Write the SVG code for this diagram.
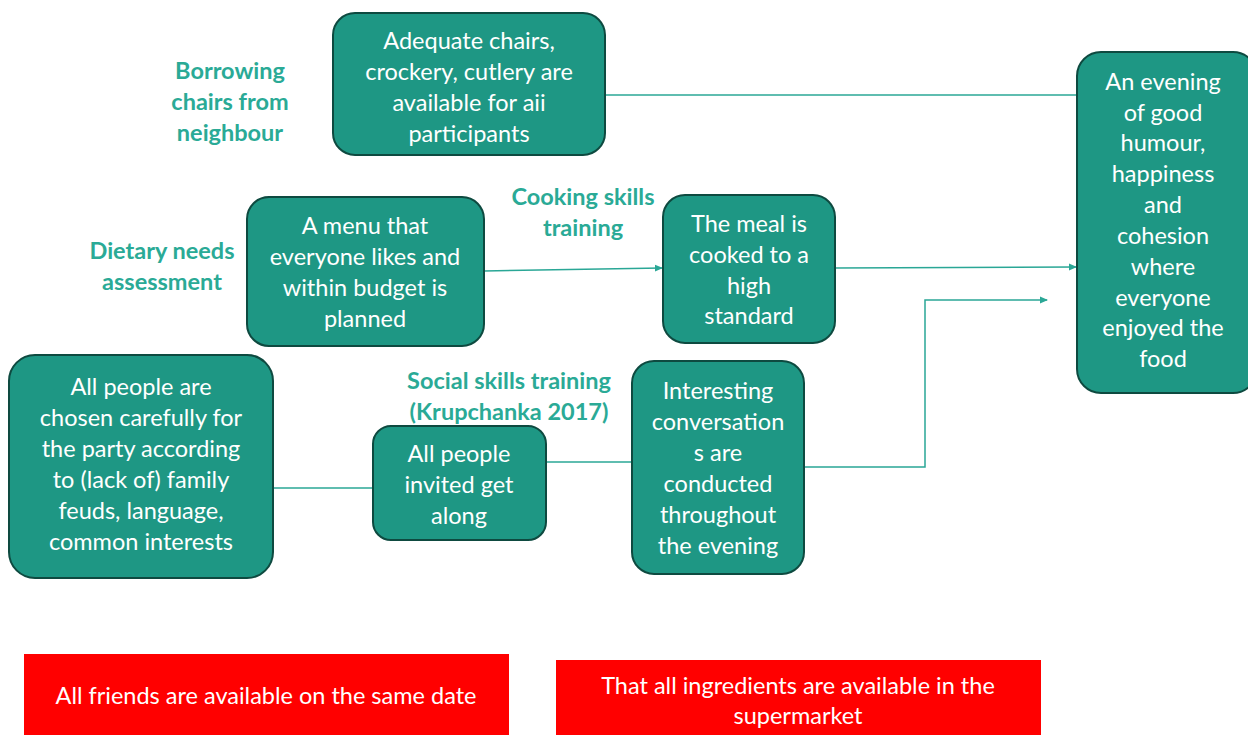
<svg xmlns="http://www.w3.org/2000/svg" width="1248" height="735" viewBox="0 0 1248 735">
<defs>
<marker id="arr" markerWidth="8" markerHeight="8" refX="7" refY="4" orient="auto" markerUnits="userSpaceOnUse">
<path d="M0,0.5 L8,4 L0,7.5 z" fill="#2AA796"/>
</marker>
<style>
.node{fill:#1E9784;stroke:#0E4A40;stroke-width:2}
.nt{font-family:Lato,"Open Sans",sans-serif;font-size:23.5px;fill:#fff;text-anchor:middle}
.lbl{font-family:Lato,"Open Sans",sans-serif;font-size:23.5px;font-weight:bold;fill:#2AAA96;text-anchor:middle}
.red{fill:#FF0000}
.rt{font-family:Lato,"Open Sans",sans-serif;font-size:23.5px;fill:#fff;text-anchor:middle}
.con{fill:none;stroke:#2AA796;stroke-width:1.5}
</style>
</defs>
<rect width="1248" height="735" fill="#fff"/>
<g id="connectors">
<line class="con" x1="605" y1="95" x2="1077" y2="95"/>
<line class="con" x1="484" y1="271" x2="662" y2="268" marker-end="url(#arr)"/>
<line class="con" x1="835" y1="268" x2="1076" y2="267" marker-end="url(#arr)"/>
<polyline class="con" points="804,467 925,467 925,300 1047,300" marker-end="url(#arr)"/>
<line class="con" x1="273" y1="488" x2="373" y2="488"/>
<line class="con" x1="546" y1="462" x2="632" y2="462"/>
</g>
<g id="lbl-borrowing"><text class="lbl"><tspan x="230" y="79">Borrowing</tspan><tspan x="230" y="110">chairs from</tspan><tspan x="230" y="141">neighbour</tspan></text></g>
<g id="lbl-dietary"><text class="lbl"><tspan x="162" y="259">Dietary needs</tspan><tspan x="162" y="290">assessment</tspan></text></g>
<g id="lbl-cooking"><text class="lbl"><tspan x="583" y="205">Cooking skills</tspan><tspan x="583" y="236">training</tspan></text></g>
<g id="lbl-social"><text class="lbl"><tspan x="509" y="389">Social skills training</tspan><tspan x="509" y="420">(Krupchanka 2017)</tspan></text></g>
<g id="n-adequate"><rect class="node" x="333" y="13" width="272" height="142" rx="22"/>
<text class="nt"><tspan x="469" y="49">Adequate chairs,</tspan><tspan x="469" y="80">crockery, cutlery are</tspan><tspan x="469" y="111">available for aii</tspan><tspan x="469" y="142">participants</tspan></text></g>
<g id="n-menu"><rect class="node" x="247" y="197" width="237" height="149" rx="22"/>
<text class="nt"><tspan x="365" y="234">A menu that</tspan><tspan x="365" y="265">everyone likes and</tspan><tspan x="365" y="296">within budget is</tspan><tspan x="365" y="327">planned</tspan></text></g>
<g id="n-meal"><rect class="node" x="663" y="195" width="172" height="148" rx="22"/>
<text class="nt"><tspan x="749" y="232">The meal is</tspan><tspan x="749" y="263">cooked to a</tspan><tspan x="749" y="294">high</tspan><tspan x="749" y="324">standard</tspan></text></g>
<g id="n-chosen"><rect class="node" x="9" y="355" width="264" height="223" rx="26"/>
<text class="nt"><tspan x="141" y="395">All people are</tspan><tspan x="141" y="426">chosen carefully for</tspan><tspan x="141" y="457">the party according</tspan><tspan x="141" y="488">to (lack of) family</tspan><tspan x="141" y="519">feuds, language,</tspan><tspan x="141" y="550">common interests</tspan></text></g>
<g id="n-invited"><rect class="node" x="373" y="426" width="173" height="114" rx="18"/>
<text class="nt"><tspan x="459" y="462">All people</tspan><tspan x="459" y="493">invited get</tspan><tspan x="459" y="524">along</tspan></text></g>
<g id="n-conv"><rect class="node" x="632" y="361" width="172" height="213" rx="22"/>
<text class="nt"><tspan x="718" y="399">Interesting</tspan><tspan x="718" y="430">conversation</tspan><tspan x="718" y="461">s are</tspan><tspan x="718" y="492">conducted</tspan><tspan x="718" y="523">throughout</tspan><tspan x="718" y="554">the evening</tspan></text></g>
<g id="n-evening"><rect class="node" x="1077" y="52" width="180" height="341" rx="24"/>
<text class="nt"><tspan x="1163" y="90">An evening</tspan><tspan x="1163" y="121">of good</tspan><tspan x="1163" y="151">humour,</tspan><tspan x="1163" y="182">happiness</tspan><tspan x="1163" y="213">and</tspan><tspan x="1163" y="244">cohesion</tspan><tspan x="1163" y="275">where</tspan><tspan x="1163" y="306">everyone</tspan><tspan x="1163" y="336">enjoyed the</tspan><tspan x="1163" y="367">food</tspan></text></g>
<g id="a-friends"><rect class="red" x="24" y="654" width="485" height="90"/>
<text class="rt" x="266" y="704">All friends are available on the same date</text></g>
<g id="a-ingredients"><rect class="red" x="556" y="660" width="485" height="90"/>
<text class="rt"><tspan x="798" y="694">That all ingredients are available in the</tspan><tspan x="798" y="724">supermarket</tspan></text></g>
</svg>
